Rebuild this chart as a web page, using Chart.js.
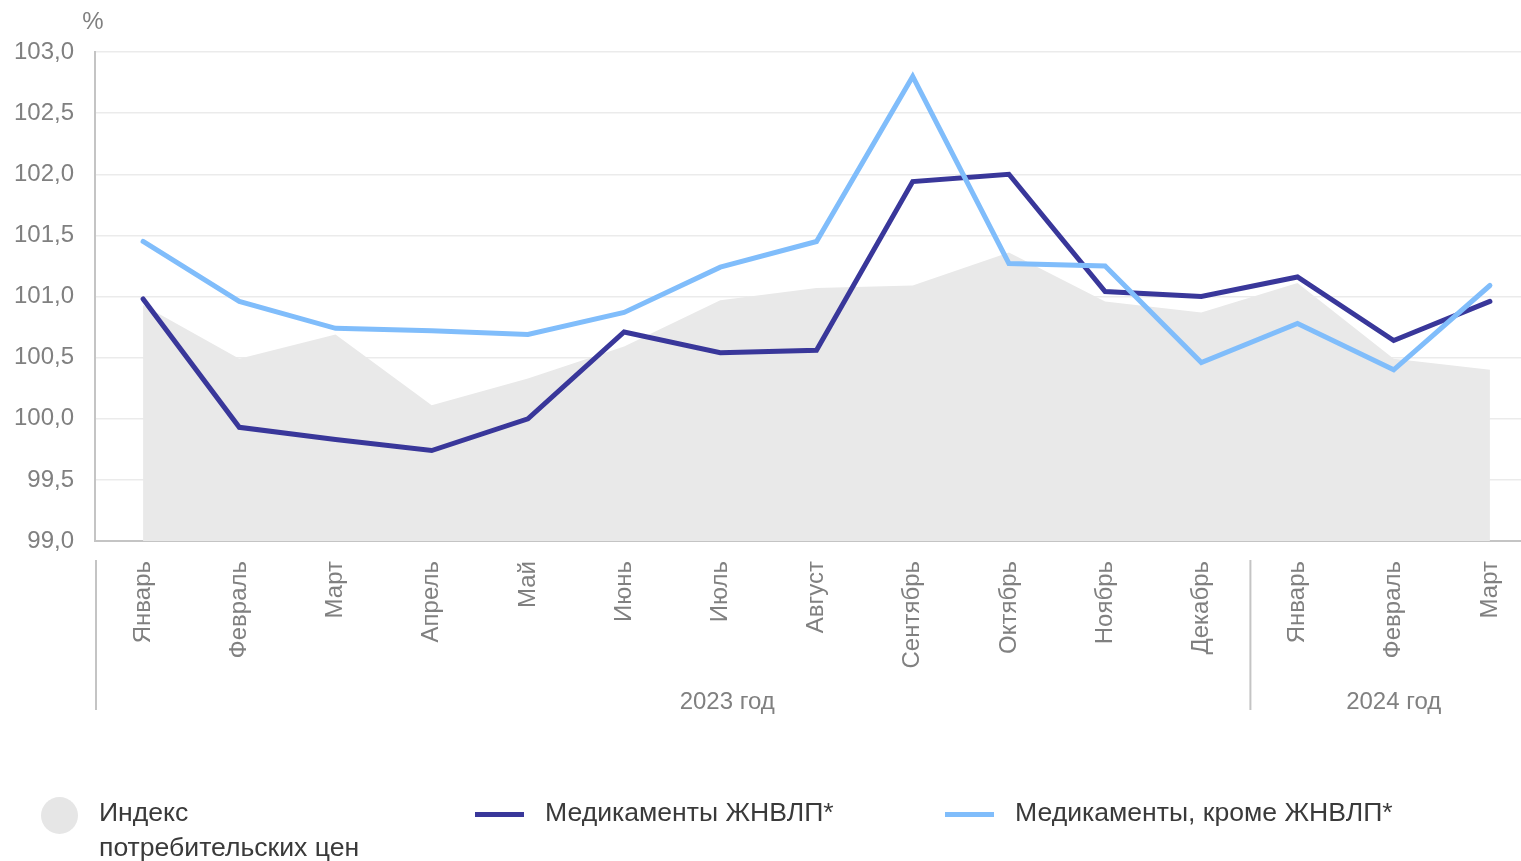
<!DOCTYPE html>
<html lang="ru">
<head>
<meta charset="utf-8">
<title>Индексы цен на медикаменты</title>
<script src="https://cdn.jsdelivr.net/npm/chart.js@4.4.1/dist/chart.umd.min.js"></script>
<style>
  html, body { margin: 0; padding: 0; background: #fff; overflow: hidden; }
  #wrap { position: absolute; left: 0; top: 0; width: 1540px; height: 861px; }
  .legend { position: absolute; font-family: 'Liberation Sans', Arial, sans-serif; font-size: 26.6px; color: #3a3a3a; line-height: 35px; white-space: nowrap; }
  .dot { position: absolute; left: 41px; top: 797px; width: 37px; height: 37px; border-radius: 50%; background: #e6e6e6; }
  .bar { position: absolute; height: 5px; width: 49px; }
</style>
</head>
<body>
<div id="wrap"><canvas id="chart"></canvas></div>

<!-- legend -->
<div class="dot"></div>
<div class="legend" style="left:99px; top:795px;">Индекс<br>потребительских цен</div>
<div class="bar" style="left:475px; top:812px; background:#39379a;"></div>
<div class="legend" style="left:545px; top:795px;">Медикаменты ЖНВЛП*</div>
<div class="bar" style="left:945px; top:812px; background:#80bdfb;"></div>
<div class="legend" style="left:1015px; top:795px;">Медикаменты, кроме ЖНВЛП*</div>

<script>
// ── DATA ──────────────────────────────────────────────────────────
const MONTHS = [
  'Январь', 'Февраль', 'Март', 'Апрель', 'Май', 'Июнь', 'Июль', 'Август',
  'Сентябрь', 'Октябрь', 'Ноябрь', 'Декабрь', 'Январь', 'Февраль', 'Март',
];
const CPI      = [100.93, 100.49, 100.69, 100.11, 100.33, 100.59, 100.97, 101.07, 101.09, 101.36, 100.96, 100.87, 101.11, 100.49, 100.40];
const VED      = [100.98,  99.93,  99.83,  99.74, 100.00, 100.71, 100.54, 100.56, 101.94, 102.00, 101.04, 101.00, 101.16, 100.64, 100.96];
const NON_VED  = [101.45, 100.96, 100.74, 100.72, 100.69, 100.87, 101.24, 101.45, 102.80, 101.27, 101.25, 100.46, 100.78, 100.40, 101.09];
const Y_MIN = 99, Y_MAX = 103, Y_STEP = 0.5;
const YEAR_LABELS = ['2023 год', '2024 год'];
const YEAR_FIRST  = [0, 12];   // first month index of each year
const YEAR_LAST   = [11, 14];

// ── STYLE ─────────────────────────────────────────────────────────
const FONT = "'Liberation Sans', Arial, sans-serif";
const TICK_COLOR = '#808080';
const GROUP_SHIFT = [55, 0];   // label nudge, px

// ── PLUGIN: unit label, year groups ──────────────────────────────
const extras = {
  id: 'extras',
  afterDraw(chart) {
    const { ctx, scales: { x, y } } = chart;
    ctx.save();
    ctx.font = `24px ${FONT}`;
    ctx.fillStyle = TICK_COLOR;
    ctx.textAlign = 'center';
    ctx.textBaseline = 'middle';
    ctx.fillText('%', x.left - 2, 22);

    const half = (x.getPixelForValue(1) - x.getPixelForValue(0)) / 2;
    ctx.strokeStyle = '#c4c4c4';
    ctx.lineWidth = 2;
    YEAR_LABELS.forEach((lbl, i) => {
      const x0 = x.getPixelForValue(YEAR_FIRST[i]) - half + 1;
      ctx.beginPath();
      ctx.moveTo(x0, 560);
      ctx.lineTo(x0, 710);
      ctx.stroke();
      const cx = (x.getPixelForValue(YEAR_FIRST[i]) + x.getPixelForValue(YEAR_LAST[i])) / 2 + GROUP_SHIFT[i];
      ctx.fillText(lbl, cx, 702);
    });
    ctx.restore();
  }
};

new Chart(document.getElementById('chart').getContext('2d'), {
  type: 'line',
  data: {
    labels: MONTHS,
    datasets: [
      {
        label: 'Медикаменты ЖНВЛП*',
        data: VED,
        borderColor: '#39379a',
        borderWidth: 5,
        borderCapStyle: 'round',
        pointRadius: 0,
        tension: 0,
        fill: false,
        order: 1,
      },
      {
        label: 'Медикаменты, кроме ЖНВЛП*',
        data: NON_VED,
        borderColor: '#80bdfb',
        borderWidth: 5,
        borderCapStyle: 'round',
        pointRadius: 0,
        tension: 0,
        fill: false,
        order: 0,
      },
      {
        label: 'Индекс потребительских цен',
        data: CPI,
        borderWidth: 0,
        borderColor: 'rgba(0,0,0,0)',
        backgroundColor: '#e9e9e9',
        pointRadius: 0,
        tension: 0,
        fill: 'start',
        order: 2,
      },
    ]
  },
  options: {
    responsive: true,
    maintainAspectRatio: false,
    animation: false,
    layout: { padding: { top: 52, right: 2, left: 0, bottom: 0 } },
    plugins: {
      legend: { display: false },
      tooltip: { enabled: false },
    },
    scales: {
      x: {
        offset: true,
        grid: { display: false, drawTicks: false },
        border: { display: true, color: '#c4c4c4', width: 2 },
        ticks: {
          minRotation: 90,
          maxRotation: 90,
          autoSkip: false,
          padding: 20,
          color: TICK_COLOR,
          font: { family: FONT, size: 24 },
        },
        afterFit: (s) => { s.height = 320; },
      },
      y: {
        min: Y_MIN,
        max: Y_MAX,
        grid: { color: '#ebebeb', lineWidth: 1.5, drawTicks: false },
        border: { display: true, color: '#c4c4c4', width: 2 },
        ticks: {
          stepSize: Y_STEP,
          padding: 21,
          color: TICK_COLOR,
          font: { family: FONT, size: 24 },
          callback: (v) => v.toFixed(1).replace('.', ','),
        },
        afterFit: (s) => { s.width = 95; },
      }
    }
  },
  plugins: [extras],
});
</script>
</body>
</html>
